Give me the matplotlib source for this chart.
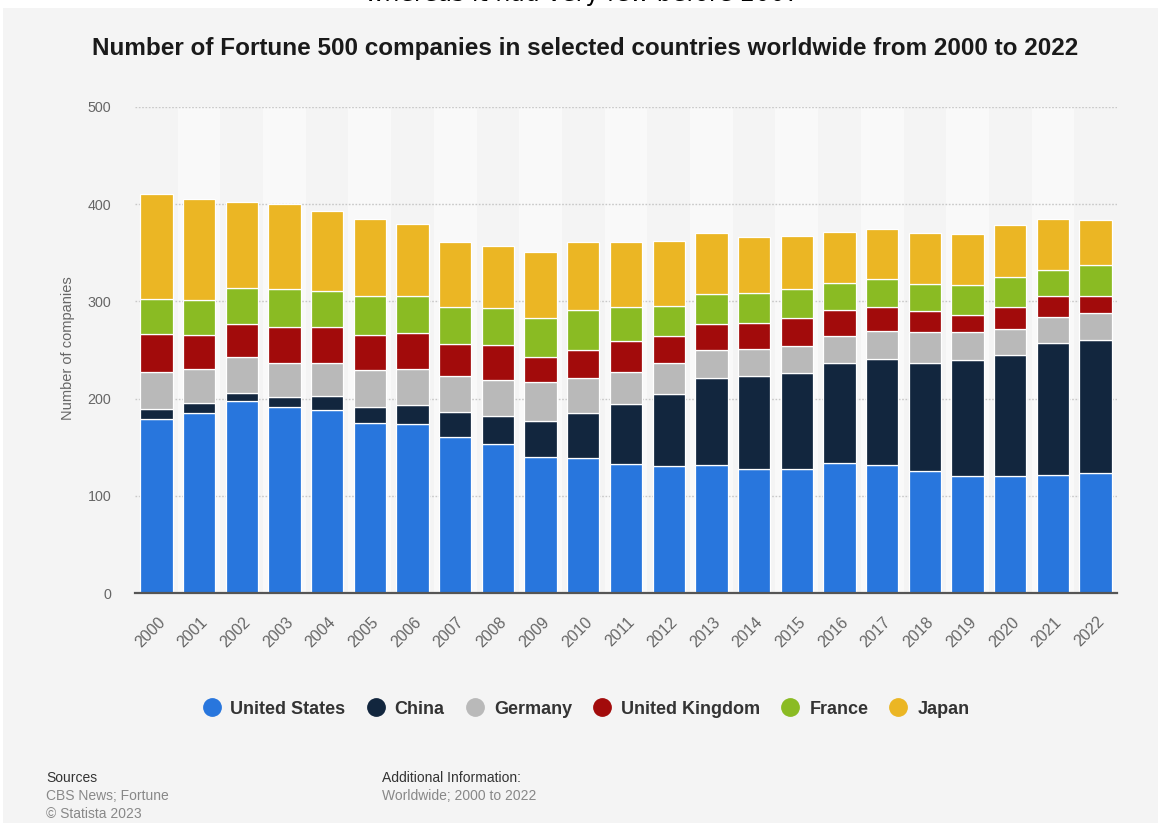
import matplotlib
matplotlib.use("Agg")
import matplotlib.pyplot as plt
import matplotlib.transforms as mtransforms
from matplotlib.lines import Line2D
from matplotlib.patches import Rectangle
import numpy as np

plt.rcParams['font.family'] = ['Liberation Sans', 'DejaVu Sans']

years = [str(y) for y in range(2000, 2023)]
united_states  = [179, 185, 198, 191, 188, 175, 174, 161, 153, 140, 139, 133, 131, 132, 128, 128, 134, 132, 126, 121, 121, 122, 124]
china          = [10, 11, 8, 11, 15, 16, 19, 25, 29, 37, 46, 61, 74, 89, 95, 98, 103, 109, 111, 119, 124, 135, 136]
germany        = [38, 34, 37, 35, 34, 38, 37, 37, 37, 40, 36, 33, 32, 29, 28, 28, 27, 29, 32, 29, 27, 27, 28]
united_kingdom = [39, 35, 34, 37, 37, 36, 37, 33, 36, 26, 29, 32, 27, 27, 27, 29, 27, 24, 21, 17, 22, 22, 18]
france         = [36, 36, 37, 39, 37, 40, 38, 38, 38, 40, 41, 35, 31, 31, 31, 30, 28, 29, 28, 31, 31, 26, 31]
japan          = [108, 104, 88, 87, 82, 80, 74, 67, 64, 68, 70, 67, 67, 62, 57, 54, 52, 51, 52, 52, 53, 53, 47]

series = [
    ("United States", united_states, "#2876dd"),
    ("China", china, "#12263e"),
    ("Germany", germany, "#b9b9b9"),
    ("United Kingdom", united_kingdom, "#a20b0b"),
    ("France", france, "#8abb23"),
    ("Japan", japan, "#ebb624"),
]

W, H = 1158, 823
BG = "#f4f4f4"
fig = plt.figure(figsize=(W / 100, H / 100), dpi=100, facecolor="white")

# page background (white strip along the top edge)
fig.patches.append(Rectangle((3 / W, 0), 1, (H - 8) / H, transform=fig.transFigure,
                             facecolor=BG, edgecolor="none", zorder=-5))
fig.text(583 / W, 1 - 1.5 / H, "whereas it had very few before 2007", ha="center",
         va="baseline", fontsize=17, color="black", family="DejaVu Sans", zorder=-4)

left, right, top, bottom = 135, 1117, 106.7, 593.3
ax = fig.add_axes([left / W, 1 - bottom / H, (right - left) / W, (bottom - top) / H])
ax.set_facecolor(BG)
ax.set_zorder(2)

x = np.arange(len(years))
# alternating column shading
for i in x:
    if i % 2 == 1:
        ax.axvspan(i - 0.5, i + 0.5, color="#f9f9f9", zorder=0, lw=0)

base = np.zeros(len(years))
for name, vals, col in series:
    v = np.array(vals, dtype=float)
    ax.bar(x, v, bottom=base, width=0.757, color=col, edgecolor="white",
           linewidth=0.9, zorder=3, label=name)
    base += v

ax.set_xlim(-0.5, len(years) - 0.5)
ax.set_ylim(0, 500)
ax.set_yticks([0, 100, 200, 300, 400, 500])
for yv in [100, 200, 300, 400, 500]:
    ax.axhline(yv, color="#c8c8c8", lw=1, linestyle=(0, (1.2, 1.2)), zorder=1)

for s in ["top", "right", "left"]:
    ax.spines[s].set_visible(False)
ax.spines["bottom"].set_color("#555555")
ax.spines["bottom"].set_linewidth(1.6)
ax.spines["bottom"].set_zorder(5)

ax.tick_params(axis="y", length=0, pad=17, labelsize=10.3, labelcolor="#666666")
ax.tick_params(axis="x", length=0, pad=15, labelsize=11.5, labelcolor="#666666")
ax.set_xticks(x)
ax.set_xticklabels(years, rotation=45, ha="right", va="top", rotation_mode="anchor")
shift = mtransforms.ScaledTranslation(1 / 100, 0, fig.dpi_scale_trans)
for lbl in ax.get_xticklabels():
    lbl.set_transform(lbl.get_transform() + shift)

fig.text(68 / W, 1 - 348 / H, "Number of companies", rotation=90, ha="center",
         va="center", fontsize=10.5, color="#666666")

fig.text(585 / W, 1 - 55 / H,
         "Number of Fortune 500 companies in selected countries worldwide from 2000 to 2022",
         ha="center", va="baseline", fontsize=17.5, fontweight="bold", color="#1a1a1a")

handles = [Line2D([], [], marker="o", linestyle="", markersize=12.5,
                  markerfacecolor=c, markeredgecolor=c) for _, _, c in series]
leg = fig.legend(handles, [n for n, _, _ in series], loc="center", ncol=6,
                 bbox_to_anchor=(586 / W, 1 - 709 / H), frameon=False,
                 prop={"size": 13, "weight": "bold"}, handlelength=1.0,
                 handletextpad=0.55, columnspacing=1.17)
for t in leg.get_texts():
    t.set_color("#333333")

fig.text(46 / W, 1 - 778 / H, "Sources", fontsize=10, color="#333333", va="center")
fig.text(46 / W, 1 - 796 / H, "CBS News; Fortune", fontsize=10, color="#888888", va="center")
fig.text(46 / W, 1 - 814 / H, "\u00a9 Statista 2023", fontsize=10, color="#888888", va="center")
fig.text(382 / W, 1 - 778 / H, "Additional Information:", fontsize=10, color="#333333", va="center")
fig.text(382 / W, 1 - 796 / H, "Worldwide; 2000 to 2022", fontsize=10, color="#888888", va="center")

fig.savefig("out.png", dpi=100, facecolor=fig.get_facecolor())
